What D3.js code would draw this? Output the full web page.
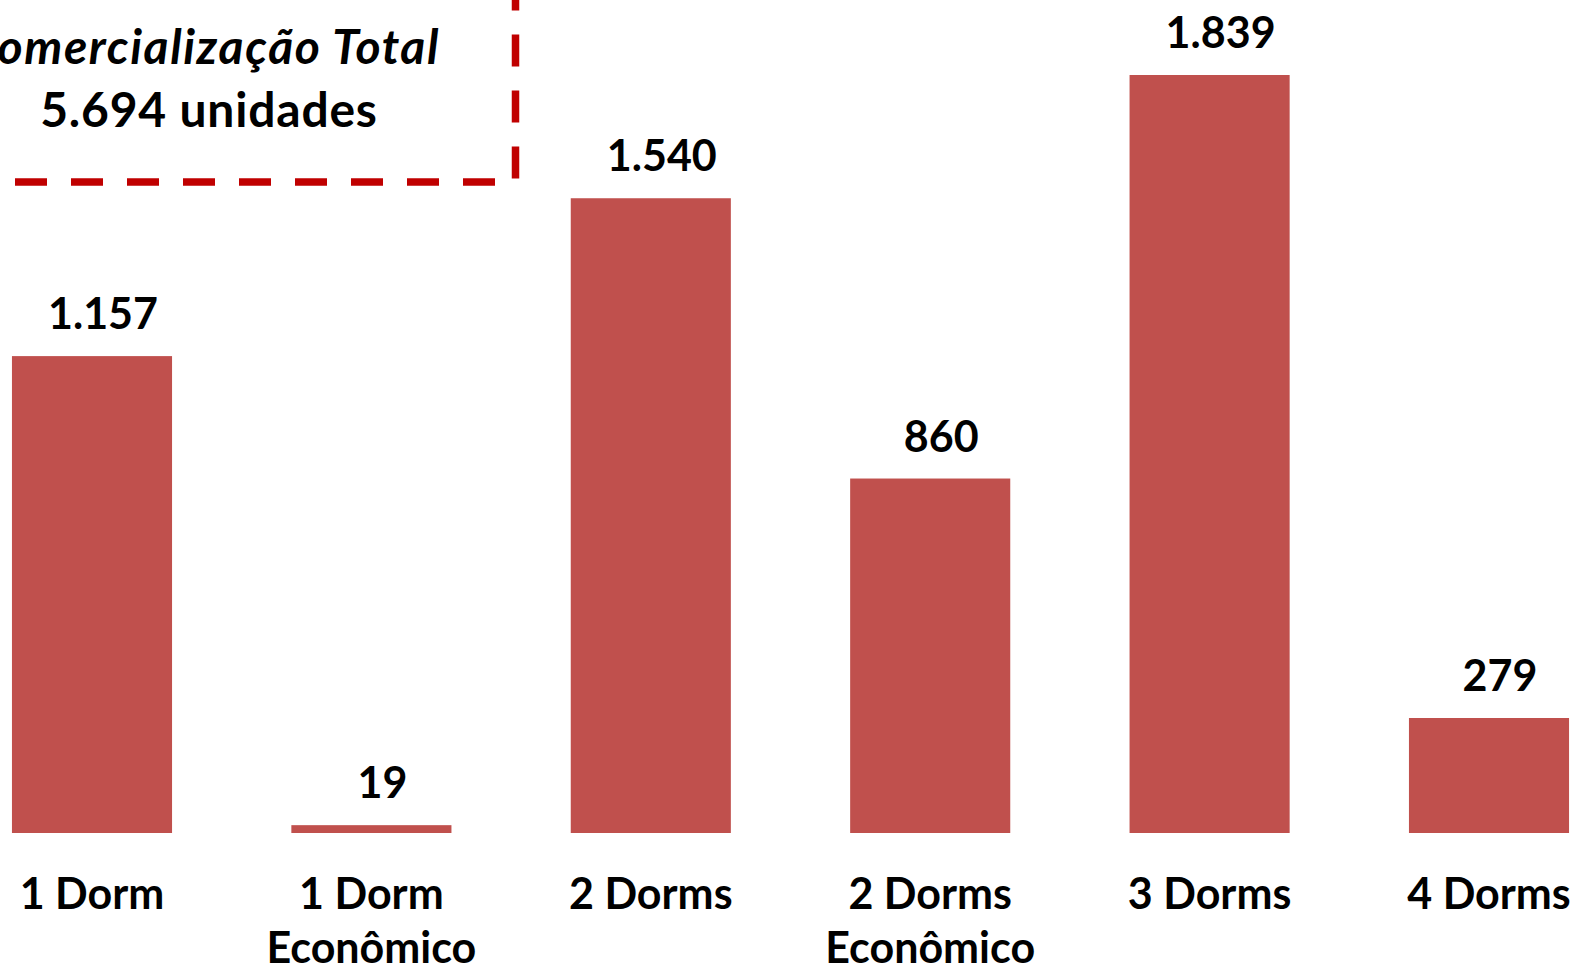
<!DOCTYPE html>
<html lang="pt">
<head>
<meta charset="utf-8">
<title>Comercialização por tipologia</title>
<style>
    html, body { margin: 0; padding: 0; background: #fff; overflow: hidden; }
    svg { display: block; }
    text { font-family: Lato, "Open Sans", sans-serif; font-weight: 700; fill: #000; }
</style>
</head>
<body>
<svg id="chart"></svg>
<script src="https://d3js.org/d3.v7.min.js"></script>
<script>
    // data
    var categories = [["1 Dorm"], ["1 Dorm", "Econômico"], ["2 Dorms"], ["2 Dorms", "Econômico"], ["3 Dorms"], ["4 Dorms"]];
    var values = [1157, 19, 1540, 860, 1839, 279];
    var valueLabels = ["1.157", "19", "1.540", "860", "1.839", "279"];
    var boxLines = ["Comercialização Total", "5.694 unidades"];

    var width = 1574, height = 972;
    var baseline = 833;

    var svg = d3.select("#chart").attr("width", width).attr("height", height);

    var keys = categories.map(c => c.join(" "));
    var x = d3.scaleBand()
        .domain(keys)
        .range([-47.7, 1628.7])
        .paddingInner(0.427)
        .paddingOuter(0.2135);

    var y = d3.scaleLinear()
        .domain([0, 1839])
        .range([baseline, 75]);

    var data = keys.map((k, i) => ({key: k, lines: categories[i], value: values[i], label: valueLabels[i]}));

    // bars
    svg.selectAll(".bar")
        .data(data)
        .enter()
        .append("rect")
        .attr("class", "bar")
        .attr("x", d => x(d.key))
        .attr("width", x.bandwidth())
        .attr("y", d => y(d.value))
        .attr("height", d => baseline - y(d.value))
        .attr("fill", "#C0504D");

    // value labels
    svg.selectAll(".val")
        .data(data)
        .enter()
        .append("text")
        .attr("class", "val")
        .attr("x", d => x(d.key) + x.bandwidth() / 2 + 11)
        .attr("y", d => y(d.value) - 27)
        .attr("text-anchor", "middle")
        .style("font-size", "43px")
        .text(d => d.label);

    // category labels
    var cat = svg.selectAll(".cat")
        .data(data)
        .enter()
        .append("text")
        .attr("class", "cat")
        .attr("text-anchor", "middle")
        .style("font-size", "43px");
    cat.selectAll("tspan")
        .data(d => d.lines.map(l => ({l: l, cx: x(d.key) + x.bandwidth() / 2})))
        .enter()
        .append("tspan")
        .attr("x", d => d.cx)
        .attr("y", (d, i) => 909 + i * 54)
        .text(d => d.l);

    // dashed annotation box (left/top edges run off the picture)
    var boxRight = 515.5, boxBottom = 182;
    svg.append("path")
        .attr("d", "M15," + boxBottom + "H" + boxRight + "V-40")
        .attr("fill", "none")
        .attr("stroke", "#C00000")
        .attr("stroke-width", 7.5)
        .attr("stroke-dasharray", "32 24");

    svg.append("text")
        .attr("x", 440)
        .attr("y", 64)
        .attr("text-anchor", "end")
        .style("font-size", "48px")
        .style("font-style", "italic")
        .style("letter-spacing", "1.6px")
        .text(boxLines[0]);

    svg.append("text")
        .attr("x", 209)
        .attr("y", 127)
        .attr("text-anchor", "middle")
        .style("font-size", "48px")
        .style("letter-spacing", "0.8px")
        .text(boxLines[1]);
</script>
</body>
</html>
